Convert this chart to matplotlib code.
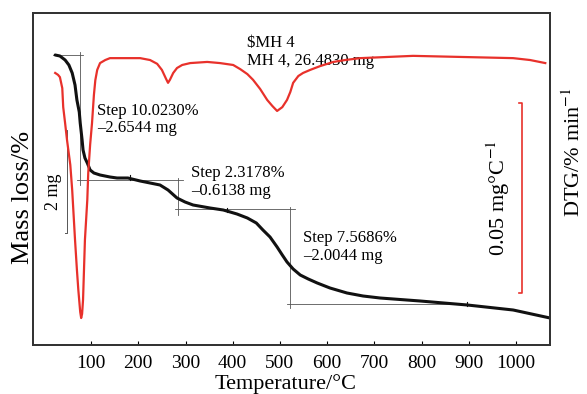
import matplotlib
matplotlib.use("Agg")
import matplotlib.pyplot as plt
import numpy as np

plt.rcParams['font.family'] = ['Liberation Serif', 'DejaVu Serif']
plt.rcParams['mathtext.fontset'] = 'stix'

# TG curve (temperature in degC, mass in %)
tg_T = [24, 34, 45, 53, 60, 66, 70, 75, 77, 81, 83, 87, 92, 98, 106, 119, 140, 155, 178,
        204, 225, 246, 263, 282, 299, 316, 352, 380, 409, 431, 450, 464, 479, 494, 505,
        515, 528, 543, 560, 579, 606, 642, 676, 712, 797, 897, 994, 1072]
tg_m = [100.0, 99.92, 99.6, 99.2, 98.56, 97.6, 96.4, 95.44, 94.56, 93.2, 92.4, 91.76,
        91.36, 90.8, 90.56, 90.4, 90.24, 90.16, 90.16, 89.92, 89.76, 89.6, 89.2, 88.56,
        88.24, 88.0, 87.76, 87.6, 87.28, 86.96, 86.56, 86.0, 85.44, 84.64, 84.0, 83.44,
        82.88, 82.4, 82.08, 81.76, 81.36, 80.96, 80.72, 80.56, 80.32, 80.0, 79.6, 78.96]

# DTG curve (mg/degC)
dtg_T = [24, 30, 34, 39, 41, 45, 49, 56, 60, 66, 70, 73, 77, 79, 81, 83, 87, 92, 94, 98,
         102, 106, 109, 113, 119, 130, 140, 176, 204, 225, 240, 250, 259, 263, 267, 274,
         282, 293, 310, 346, 373, 401, 416, 431, 443, 458, 473, 484, 494, 505, 515, 522,
         528, 539, 549, 564, 585, 613, 638, 670, 782, 888, 994, 1030, 1062]
dtg_v = [-0.0042, -0.0047, -0.0053, -0.0082, -0.0132, -0.0174, -0.0218, -0.0284, -0.0350,
         -0.0481, -0.0560, -0.0613, -0.0671, -0.0687, -0.0676, -0.0639, -0.0481, -0.0376,
         -0.0305, -0.0231, -0.0174, -0.0100, -0.0061, -0.0034, -0.0016, -0.0008, -0.0003,
         -0.0003, -0.0003, -0.0008, -0.0018, -0.0034, -0.0058, -0.0068, -0.0060, -0.0042,
         -0.0029, -0.0021, -0.0016, -0.0013, -0.0016, -0.0021, -0.0032, -0.0045, -0.0060,
         -0.0084, -0.0113, -0.0129, -0.0142, -0.0132, -0.0113, -0.0092, -0.0068, -0.0050,
         -0.0042, -0.0034, -0.0024, -0.0013, -0.0008, -0.0003, 0.0003, 0.0, -0.0003,
         -0.0008, -0.0016]

# step analysis
step_levels = [100.0, 89.977, 87.659, 80.090]
step_x = [77, 284, 522]
step_labels = ["Step 10.0230%\n\u20132.6544 mg", "Step 2.3178%\n\u20130.6138 mg",
               "Step 7.5686%\n\u20132.0044 mg"]
step_text_pos = [(113, 96.2), (312, 91.2), (549, 86.0)]
curve_marks = [183, 388, 897]

xticks = [100, 200, 300, 400, 500, 600, 700, 800, 900, 1000]

red = '#e8312b'

fig = plt.figure(figsize=(5.87, 3.94), dpi=100)
ax = fig.add_axes([33/587, 1-345/394, (550-33)/587, (345-13)/394])
ax2 = ax.twinx()

ax.set_xlim(-23, 1072)
ax.set_ylim(76.8, 103.36)
ax2.set_ylim(-0.0758, 0.01158)

# guide lines of the step evaluation
gl = dict(color='#555555', lw=0.6)
ax.plot([19, 83], [step_levels[0]]*2, **gl)
ax.plot([step_x[0]]*2, [100.24, 89.6], **gl)
ax.plot([70, 295], [step_levels[1]]*2, **gl)
ax.plot([step_x[1]]*2, [90.16, 87.2], **gl)
ax.plot([278, 532], [step_levels[2]]*2, **gl)
ax.plot([step_x[2]]*2, [87.84, 79.76], **gl)
ax.plot([515, 903], [step_levels[3]]*2, **gl)

ax.plot(tg_T, tg_m, color='#111111', lw=2.2, zorder=5,
        solid_joinstyle='round', solid_capstyle='round')
m_at = np.interp(curve_marks, tg_T, tg_m)
for t, m in zip(curve_marks, m_at):
    ax.plot([t, t], [m - 0.1, m + 0.25], color='#111111', lw=0.8, zorder=6)

ax2.plot(dtg_T, dtg_v, color=red, lw=1.6, solid_joinstyle='round')

# 2 mg scale bar
ax.plot([44, 49, 49, 44], [94.0, 94.0, 85.76, 85.76], color='#555555', lw=0.7)
ax.text(19.5, 89.04, "2 mg", rotation=90, ha='center', va='center', fontsize=13)

# 0.05 mg/degC scale bar
ax2.plot([1006, 1013, 1013, 1006], [-0.0121, -0.0121, -0.0621, -0.0621], color=red, lw=1.2)
ax2.text(962, -0.0371, "0.05 mg\u00b0C$^{-1}$", rotation=90, ha='center', va='center',
         fontsize=16)

for (tx, ty), s in zip(step_text_pos, step_labels):
    ax.text(tx, ty, s, ha='left', va='top', fontsize=12, linespacing=1.15)

ax.text(431, 101.6, "$MH 4\nMH 4, 26.4830 mg", ha='left', va='top', fontsize=12,
        linespacing=1.15)

ax.set_xticks(xticks)
ax.tick_params(axis='x', direction='in', length=3, labelsize=14, pad=7)
ax.tick_params(axis='y', left=False, labelleft=False)
ax2.tick_params(axis='y', right=False, labelright=False)
for a in (ax, ax2):
    for sp in a.spines.values():
        sp.set_linewidth(1.3)
        sp.set_color('#333333')

fig.text(286/587, 1-384/394, "Temperature/\u00b0C", ha='center', va='center', fontsize=16)
fig.text(23/587, 1-197/394, "Mass loss/%", ha='center', va='center', rotation=90,
         fontsize=19)
fig.text(574/587, 1-152/394, "DTG/% min$^{-1}$", ha='center', va='center', rotation=90,
         fontsize=16)

fig.savefig("out.png", dpi=100)
